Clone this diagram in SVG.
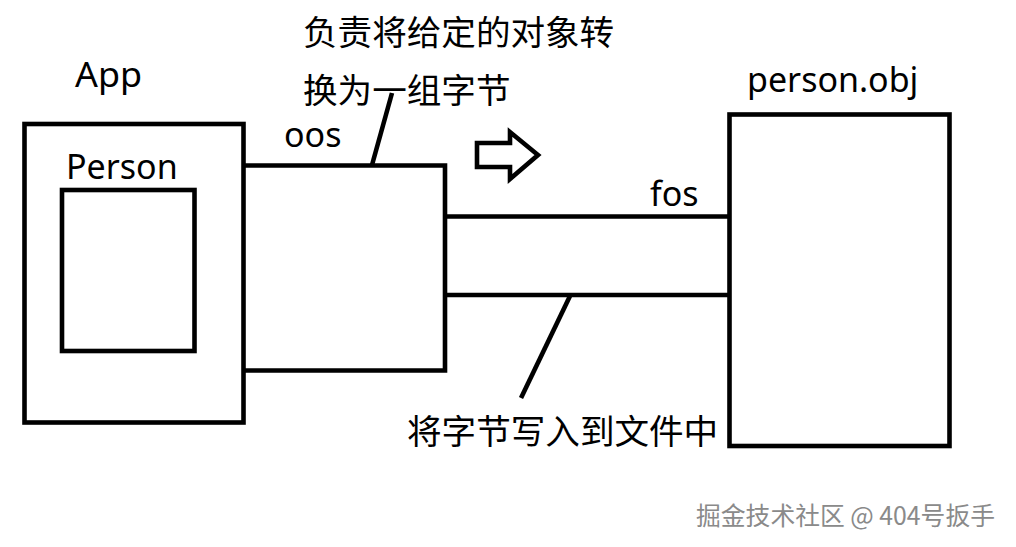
<svg xmlns="http://www.w3.org/2000/svg" width="1016" height="547" viewBox="0 0 1016 547">
<style>
.box{fill:none;stroke:#000;stroke-width:4.6;stroke-linejoin:miter}
.ln{fill:none;stroke:#000;stroke-width:4.6;stroke-linecap:butt}
.t{font-family:"Noto Sans","Noto Sans CJK SC",sans-serif;font-size:34px;fill:#000}
.c{font-family:"Noto Sans CJK SC",sans-serif;font-size:34.6px;fill:#000}
.wm{font-family:"Noto Sans CJK SC","Noto Sans",sans-serif;font-size:25px;fill:#8a8a8a;stroke:#ffffff;stroke-width:0.6px;paint-order:stroke}
</style>
<rect width="1016" height="547" fill="#fff"/>
<g id="app">
<rect class="box" x="24.5" y="124" width="219" height="298.5"/>
<text class="t" x="75" y="87" textLength="67" lengthAdjust="spacingAndGlyphs">App</text>
</g>
<g id="person">
<rect class="box" x="62" y="190" width="132.5" height="161"/>
<text class="t" x="66" y="179">Person</text>
</g>
<g id="oos">
<path class="box" d="M243 165.5H445V370.5H243"/>
<text class="t" x="284" y="147">oos</text>
</g>
<g id="fos">
<path class="ln" d="M445 216.5H729.5M445 295H729.5"/>
<text class="t" x="650" y="206">fos</text>
</g>
<g id="personobj">
<rect class="box" x="729.5" y="114.5" width="220" height="331.5"/>
<text class="t" x="747" y="92">person.obj</text>
</g>
<g id="arrow">
<path class="box" d="M477 143H510V132L538 155L510 179V167H477Z"/>
</g>
<g id="connectors">
<line class="ln" x1="372" y1="165" x2="392" y2="93"/>
<line class="ln" x1="570" y1="296" x2="521" y2="398"/>
</g>
<g id="notes">
<text class="c" x="303" y="45">负责将给定的对象转</text>
<text class="c" x="303" y="103">换为一组字节</text>
<text class="c" x="407" y="444">将字节写入到文件中</text>
</g>
<text class="wm" x="696" y="525" textLength="299" lengthAdjust="spacingAndGlyphs">掘金技术社区 @ 404号扳手</text>
</svg>
